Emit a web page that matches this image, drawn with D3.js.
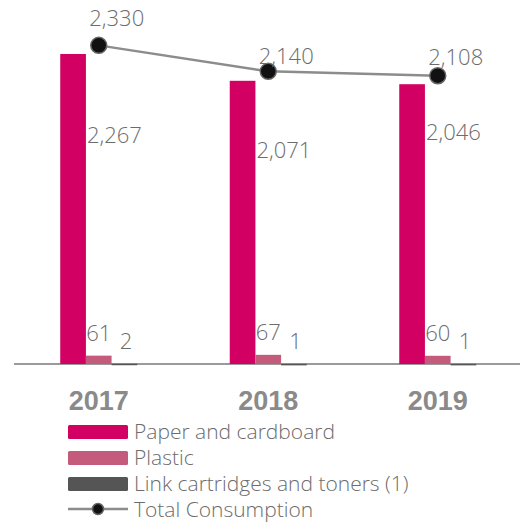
<!DOCTYPE html>
<html>
<head>
<meta charset="utf-8">
<script src="https://cdn.jsdelivr.net/npm/d3@7"></script>
<style>
html,body{margin:0;padding:0;background:#fff;}
svg{display:block;}
</style>
</head>
<body>
<svg id="chart" width="520" height="523"></svg>
<script>
// ---- data ----
const years = ["2017", "2018", "2019"];
const seriesNames = ["Paper and cardboard", "Plastic", "Link cartridges and toners (1)"];
const paper = [2267, 2071, 2046];
const plastic = [61, 67, 60];
const toners = [2, 1, 1];
const total = [2330, 2140, 2108];
const lineName = "Total Consumption";

// label nudges (layout only)
const paperLabelDy = [89, 77, 56];
const totalLabelDy = [-19, -7, -11];

const colors = ["#d20062", "#c45a7c", "#555555"];
const textColor = "#6c6c6c";
const labelFont = "'Open Sans', 'Noto Sans', sans-serif";

const svg = d3.select("#chart");
const baseY = 364;

const x0 = d3.scaleBand().domain(years).range([14, 522.5]).paddingInner(0.5457).paddingOuter(0.2728);
const x1 = d3.scaleBand().domain(seriesNames).range([0, x0.bandwidth()]);
const y = d3.scaleLinear().domain([0, 2500]).range([baseY, baseY - 2500 * 0.13675]);

const seriesVals = [paper, plastic, toners];

// axis line
svg.append("line").attr("x1", 14).attr("x2", 520).attr("y1", baseY).attr("y2", baseY)
  .attr("stroke", "#9a9a9a").attr("stroke-width", 2);

// bars
seriesNames.forEach((s, si) => {
  svg.append("g").selectAll("rect").data(years).join("rect")
    .attr("x", d => x0(d) + x1(s))
    .attr("width", x1.bandwidth())
    .attr("y", (d, i) => y(seriesVals[si][i]))
    .attr("height", (d, i) => Math.max(1.5, baseY - y(seriesVals[si][i])))
    .attr("fill", colors[si]);
});

// paper labels
svg.append("g").selectAll("text").data(years).join("text")
  .attr("x", d => x0(d) + x1(seriesNames[1]) + 1)
  .attr("y", (d, i) => y(paper[i]) + paperLabelDy[i])
  .attr("font-family", labelFont).attr("font-weight", 300).attr("font-size", 22)
  .attr("fill", textColor)
  .text((d, i) => d3.format(",")(paper[i]));

// plastic & toner labels
[1, 2].forEach(si => {
  svg.append("g").selectAll("text").data(years).join("text")
    .attr("x", d => x0(d) + x1(seriesNames[si]) + x1.bandwidth() / 2 + (si === 2 ? 1.5 : 0))
    .attr("y", (d, i) => y(seriesVals[si][i]) - 15)
    .attr("text-anchor", "middle")
    .attr("font-family", labelFont).attr("font-weight", 300).attr("font-size", 22)
    .attr("fill", textColor)
    .text((d, i) => d3.format(",")(seriesVals[si][i]));
});

// total line
const cx = d => x0(d) + x0.bandwidth() / 2;
const line = d3.line().x((d, i) => cx(years[i])).y(d => y(d));
svg.append("path").datum(total).attr("d", line)
  .attr("fill", "none").attr("stroke", "#8c8c8c").attr("stroke-width", 2.5);
svg.append("g").selectAll("circle").data(total).join("circle")
  .attr("cx", (d, i) => cx(years[i])).attr("cy", d => y(d)).attr("r", 8)
  .attr("fill", "#111").attr("stroke", "#666").attr("stroke-width", 1.5);
svg.append("g").selectAll("text").data(total).join("text")
  .attr("x", (d, i) => cx(years[i]) + 18)
  .attr("y", (d, i) => y(d) + totalLabelDy[i])
  .attr("text-anchor", "middle")
  .attr("font-family", labelFont).attr("font-weight", 300).attr("font-size", 22)
  .attr("fill", textColor)
  .text(d => d3.format(",")(d));

// x labels
svg.append("g").selectAll("text").data(years).join("text")
  .attr("x", d => cx(d)).attr("y", 410)
  .attr("text-anchor", "middle")
  .attr("font-family", "'Liberation Sans', Arial, sans-serif").attr("font-weight", "bold")
  .attr("font-size", 27).attr("fill", "#8a8a8a")
  .text(d => d);

// legend
const lg = svg.append("g").attr("transform", "translate(68,425)");
seriesNames.forEach((s, i) => {
  lg.append("rect").attr("x", 0).attr("y", i * 26).attr("width", 60).attr("height", 14)
    .attr("rx", 1.5).attr("fill", colors[i]);
  lg.append("text").attr("x", 66).attr("y", i * 26 + 14)
    .attr("font-family", labelFont).attr("font-weight", 300).attr("font-size", 21)
    .attr("fill", textColor).text(s);
});
lg.append("line").attr("x1", 0).attr("x2", 60).attr("y1", 84).attr("y2", 84)
  .attr("stroke", "#8c8c8c").attr("stroke-width", 2.5);
lg.append("circle").attr("cx", 30).attr("cy", 84).attr("r", 5.5)
  .attr("fill", "#111").attr("stroke", "#666").attr("stroke-width", 1.5);
lg.append("text").attr("x", 66).attr("y", 92)
  .attr("font-family", labelFont).attr("font-weight", 300).attr("font-size", 21)
  .attr("fill", textColor).text(lineName);
</script>
</body>
</html>
